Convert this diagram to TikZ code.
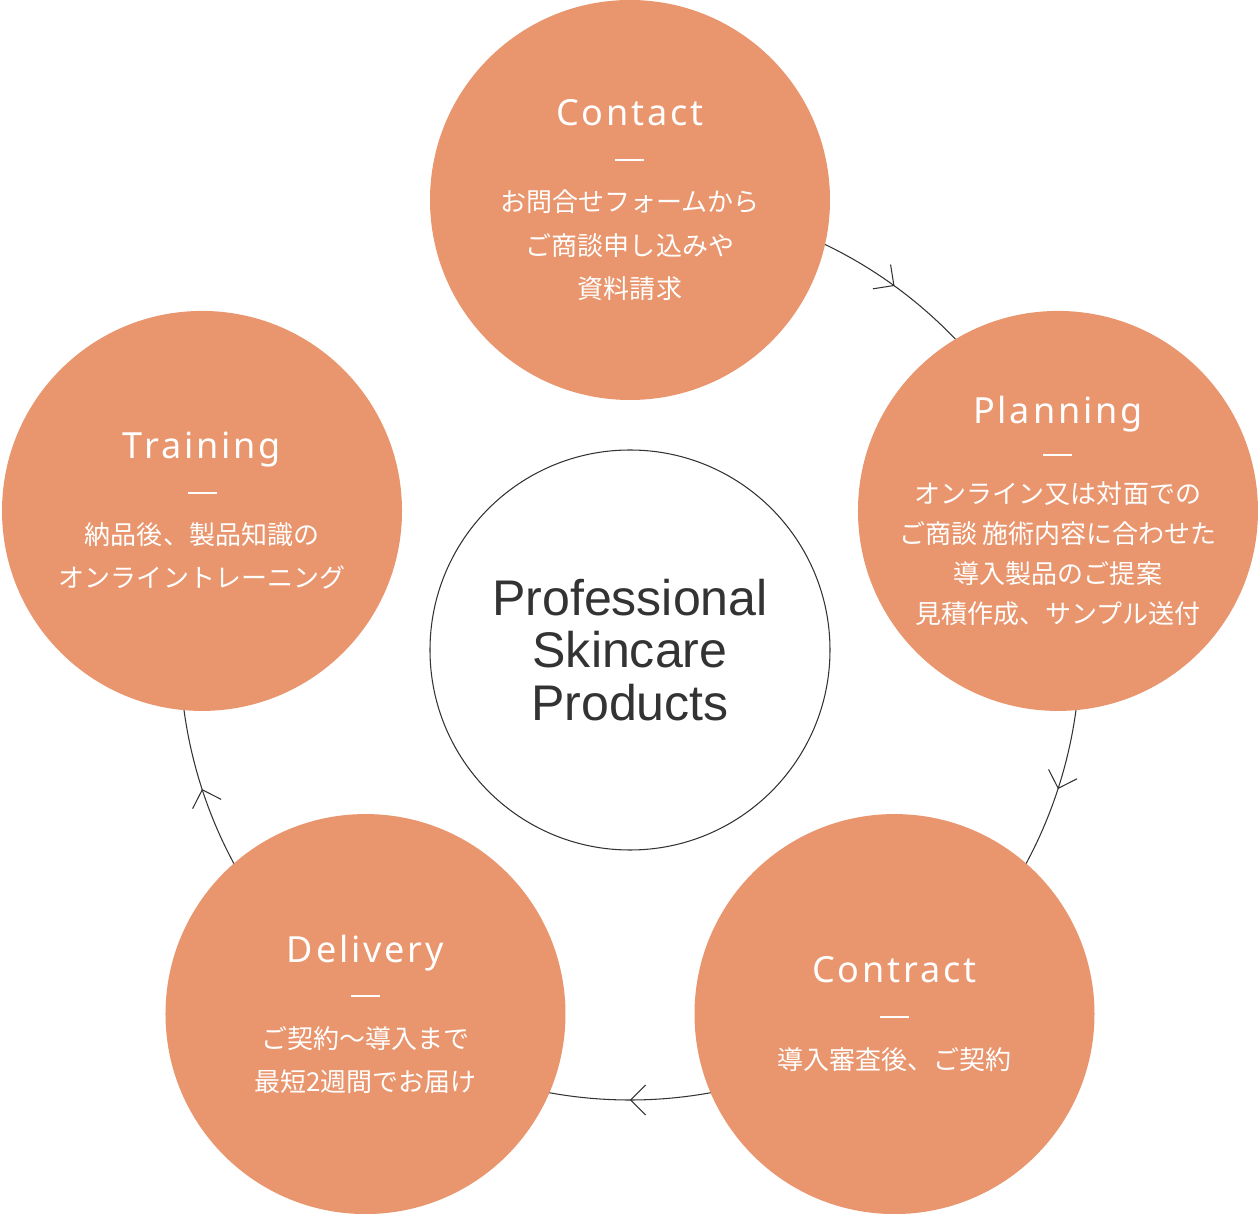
\documentclass[tikz,border=0pt]{standalone}
\usepackage{fontspec}
\setmainfont{Noto Sans}
\newfontfamily\jpfont{Noto Sans CJK JP}
\newfontfamily\headfont[LetterSpace=8]{Noto Sans}
\newfontfamily\corefont{Liberation Sans}
\usetikzlibrary{arrows.meta, decorations.markings, backgrounds}
\definecolor{stepfill}{HTML}{E9956D}
\definecolor{inkgray}{HTML}{333333}
\newcommand{\headdash}{\rule[0.3em]{0.58cm}{1.1pt}}
\newcommand{\stagehead}[1]{{\headfont\fontsize{20.5}{24}\selectfont #1}\\\headdash\\}

\begin{document}
\begin{tikzpicture}[
    phase/.style={circle, fill=stepfill, minimum size=8cm, inner sep=0pt,
                  text=white, align=center, font=\jpfont\fontsize{14.8}{24.5}\selectfont},
    core/.style={circle, draw=inkgray, line width=0.6pt, minimum size=8cm,
                 inner sep=0pt, text=inkgray, align=center,
                 font=\corefont\fontsize{28.5}{30}\selectfont},
    ring/.style={draw=inkgray, line width=0.6pt, postaction={decorate},
                 decoration={markings, mark=at position 0.5 with
                 {\arrow{Straight Barb[length=3mm, width=6mm, line width=0.6pt]}}}},
]
    \useasboundingbox (-12.6,-11.28) rectangle (12.6,13);

    % Centre
    \node[core] (core) at (0,0) {Professional\\Skincare\\Products};

    % Stages
    \node[phase] (contact) at (90:9) {\stagehead{Contact}お問合せフォームから\\ご商談申し込みや\\資料請求};
    \node[phase, font=\jpfont\fontsize{14.8}{22.8}\selectfont] (planning) at (18:9)
        {\stagehead{Planning}オンライン又は対面での\\ご商談 施術内容に合わせた\\導入製品のご提案\\見積作成、サンプル送付};
    \node[phase] (contract) at (-54:9) {\stagehead{Contract}導入審査後、ご契約};
    \node[phase] (delivery) at (-126:9) {\stagehead{Delivery}ご契約～導入まで\\最短2週間でお届け};
    \node[phase] (training) at (162:9) {\stagehead{Training}納品後、製品知識の\\オンライントレーニング};

    % Ring
    \begin{scope}[on background layer]
        \draw[ring] (contact.center) arc[start angle=90, end angle=18, radius=9cm];
        \draw[ring] (planning.center) arc[start angle=18, end angle=-54, radius=9cm];
        \draw[ring] (contract.center) arc[start angle=-54, end angle=-126, radius=9cm];
        \draw[ring] (delivery.center) arc[start angle=-126, end angle=-198, radius=9cm];
    \end{scope}
\end{tikzpicture}
\end{document}
